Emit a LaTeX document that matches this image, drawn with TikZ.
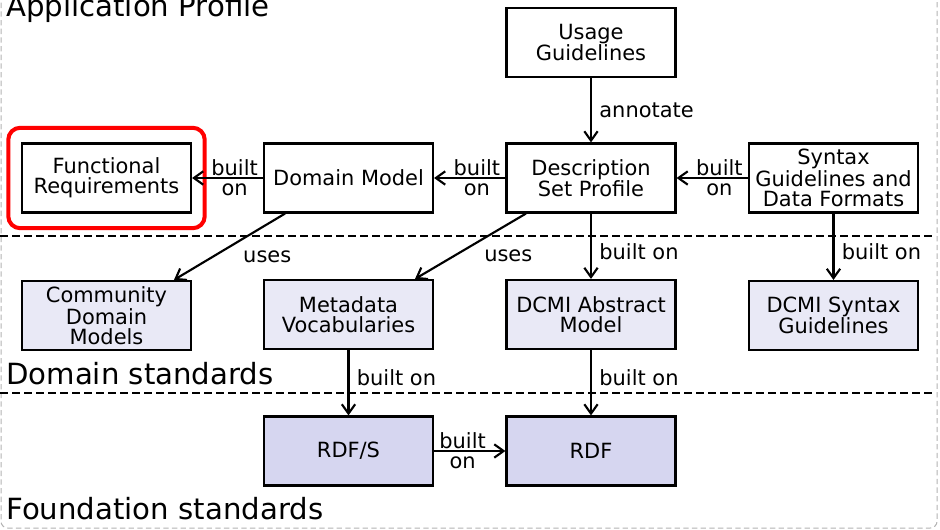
\documentclass[tikz,border=0pt]{standalone}
\usepackage{fontspec}
\setmainfont{DejaVu Sans}
\usepackage{tikz}
\usetikzlibrary{arrows.meta, fit}
\newcommand{\diagfont}{\fontsize{15.7}{15}\selectfont}
\newcommand{\layerfont}{\fontsize{21.9}{22}\selectfont}
\definecolor{domfill}{RGB}{233,233,246}
\definecolor{basefill}{RGB}{214,214,240}

\begin{document}
\begin{tikzpicture}[x=0.75pt, y=-0.75pt,
    box/.style={draw, line width=1.6pt, minimum width=126.75pt, minimum height=51.75pt,
        inner sep=1pt, align=center, font=\diagfont},
    lbl/.style={font=\diagfont, inner sep=0pt, align=center},
    layer/.style={font=\layerfont, inner sep=0pt, anchor=base west},
    link/.style={-{Straight Barb[length=7pt, width=10pt]}, line width=1.6pt},
    divider/.style={line width=1.5pt, dash pattern=on 6pt off 3pt}]
    \useasboundingbox (0,0) rectangle (940,529);
    \draw [gray!60, line width=.75pt, dash pattern=on 4pt off 2.5pt, rounded corners=5pt]
        (1,-30) rectangle (937,528);

    \node (ug) [box] at (591,42.5) {Usage\\Guidelines};
    \node (fr) [box] at (106.5,178) {Functional\\Requirements};
    \node (dm) [box] at (348.5,178) {Domain Model};
    \node (dsp) [box] at (591,178) {Description\\Set Profile};
    \node (sg) [box] at (833.5,178) {Syntax\\Guidelines and\\Data Formats};
    \node (cdm) [box, fill=domfill] at (106.5,315.5) {Community\\Domain\\Models};
    \node (mv) [box, fill=domfill] at (348.5,314.5) {Metadata\\Vocabularies};
    \node (dam) [box, fill=domfill] at (591,314.5) {DCMI Abstract\\Model};
    \node (dsg) [box, fill=domfill] at (833.5,315.5) {DCMI Syntax\\Guidelines};
    \node (rdfs) [box, fill=basefill] at (348.5,451) {RDF/S};
    \node (rdf) [box, fill=basefill] at (591,451) {RDF};

    \node (focus) [draw=red, line width=3pt, rounded corners=9pt, fit=(fr),
        inner xsep=9.5pt, inner ysep=11pt] {};

    \draw [divider] (0,236) -- (935,236);
    \draw [divider] (0,393) -- (935,393);

    \node (ap) [layer] at (6,16) {Application Profile};
    \node (ds) [layer] at (6,384) {Domain standards};
    \node (fs) [layer] at (6,519) {Foundation standards};

    \path [link]
    (dm) edge node [lbl, pos=.4] {built\\on} (fr)
    (dsp) edge node [lbl, pos=.4] {built\\on} (dm)
    (sg) edge node [lbl, pos=.4] {built\\on} (dsp)
    (rdfs) edge node [lbl, pos=.4] {built\\on} (rdf)
    (ug) edge node [lbl, right=5.5pt] {annotate} (dsp)
    ([xshift=-47.6pt]dm.south) edge node [lbl, pos=.65, right=22pt] {uses} ([xshift=50.6pt]cdm.north)
    ([xshift=-48.8pt]dsp.south) edge node [lbl, pos=.65, right=22pt] {uses} ([xshift=49.9pt]mv.north)
    (dsp) edge node [lbl, pos=.58, right=5.5pt] {built on} (dam)
    (sg) edge node [lbl, pos=.58, right=5.5pt] {built on} (dsg)
    (mv) edge node [lbl, pos=.42, right=5.5pt] {built on} (rdfs)
    (dam) edge node [lbl, pos=.42, right=5.5pt] {built on} (rdf);
\end{tikzpicture}
\end{document}
